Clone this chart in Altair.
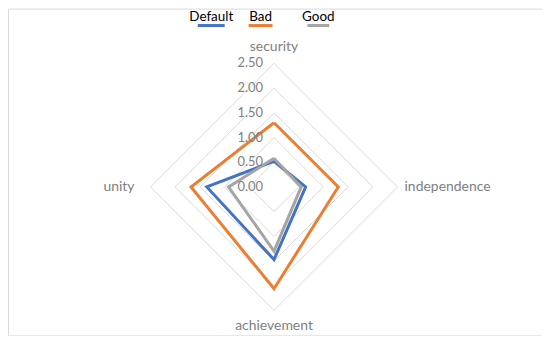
import altair as alt
import pandas as pd

categories = ["security", "independence", "achievement", "unity"]
series_names = ["Default", "Bad", "Good"]
default_vals = [0.52, 0.64, 1.47, 1.36]
bad_vals = [1.30, 1.30, 2.06, 1.68]
good_vals = [0.58, 0.55, 1.30, 0.92]
series_colors = ["#4472C4", "#ED7D31", "#A5A5A5"]
grid_levels = [0.5, 1.0, 1.5, 2.0, 2.5]
tick_values = [0.0, 0.5, 1.0, 1.5, 2.0, 2.5]
tick_labels = ["0.00", "0.50", "1.00", "1.50", "2.00", "2.50"]

W, H = 536, 328
FONT = "Lato"

# series table (closed polygons)
rows = []
for name, vals in zip(series_names, [default_vals, bad_vals, good_vals]):
    for k in range(len(categories) + 1):
        i = k % len(categories)
        rows.append({"series": name, "category": categories[i], "idx": i, "order": k, "value": vals[i]})
series_df = pd.DataFrame(rows)

grid_rows = []
for lv in grid_levels:
    for k in range(len(categories) + 1):
        grid_rows.append({"level": lv, "idx": k % len(categories), "order": k, "value": lv})
grid_df = pd.DataFrame(grid_rows)

tick_df = pd.DataFrame({"value": tick_values, "label": tick_labels})
cat_df = pd.DataFrame({"category": categories, "idx": list(range(len(categories))), "value": [2.5] * 4})

xscale = alt.Scale(domain=[-5.383, 5.423], nice=False, zero=False)
yscale = alt.Scale(domain=[-3.004, 3.609], nice=False, zero=False)

polar = dict(
    px="datum.value * sin(datum.idx * PI / 2)",
    py="datum.value * cos(datum.idx * PI / 2)",
)

grid = alt.Chart(grid_df).transform_calculate(**polar).mark_line(
    color="#d9d9d9", strokeWidth=1, strokeJoin="miter"
).encode(
    x=alt.X("px:Q", scale=xscale, axis=None),
    y=alt.Y("py:Q", scale=yscale, axis=None),
    detail="level:N",
    order="order:Q",
)

lines = alt.Chart(series_df).transform_calculate(**polar).mark_line(
    strokeWidth=3, strokeJoin="miter"
).encode(
    x=alt.X("px:Q", scale=xscale, axis=None),
    y=alt.Y("py:Q", scale=yscale, axis=None),
    color=alt.Color("series:N", scale=alt.Scale(domain=series_names, range=series_colors), legend=None),
    order="order:Q",
)

ticks = alt.Chart(tick_df).transform_calculate(px="0").mark_text(
    align="right", baseline="middle", dx=-11, font=FONT, fontSize=13, color="#808080"
).encode(
    x=alt.X("px:Q", scale=xscale, axis=None),
    y=alt.Y("value:Q", scale=yscale, axis=None),
    text="label:N",
)

label_styles = {
    "security": dict(align="center", baseline="middle", dy=-16),
    "independence": dict(align="left", baseline="middle", dx=7),
    "achievement": dict(align="center", baseline="middle", dy=16),
    "unity": dict(align="right", baseline="middle", dx=-16),
}
cat_layers = []
for c in categories:
    cat_layers.append(
        alt.Chart(cat_df).transform_filter(alt.datum.category == c).transform_calculate(**polar).mark_text(
            font=FONT, fontSize=14, color="#808080", **label_styles[c]
        ).encode(
            x=alt.X("px:Q", scale=xscale, axis=None),
            y=alt.Y("py:Q", scale=yscale, axis=None),
            text="category:N",
        )
    )

# legend: text above a short coloured line
legend_centers = [204, 253.5, 311.5]
legend_half = [13.5, 12, 11]
legend_layers = []
for name, col, cx, hw in zip(series_names, series_colors, legend_centers, legend_half):
    ldf = pd.DataFrame({"series": [name]})
    legend_layers.append(
        alt.Chart(ldf).mark_text(font=FONT, fontSize=13.5, color="#000000", baseline="middle", align="center").encode(
            x=alt.value(cx), y=alt.value(8.5), text="series:N"
        )
    )
    legend_layers.append(
        alt.Chart(ldf).mark_rule(color=col, strokeWidth=3).encode(
            x=alt.value(cx - hw), x2=alt.value(cx + hw), y=alt.value(17)
        )
    )

chart = alt.layer(grid, lines, ticks, *cat_layers, *legend_layers).properties(
    width=W, height=H, padding=0, autosize=alt.AutoSizeParams(type="none"), background="white"
).configure_view(stroke="#d9d9d9", strokeWidth=1)

chart.save("out.html", embed_options={"renderer": "svg", "actions": False})
